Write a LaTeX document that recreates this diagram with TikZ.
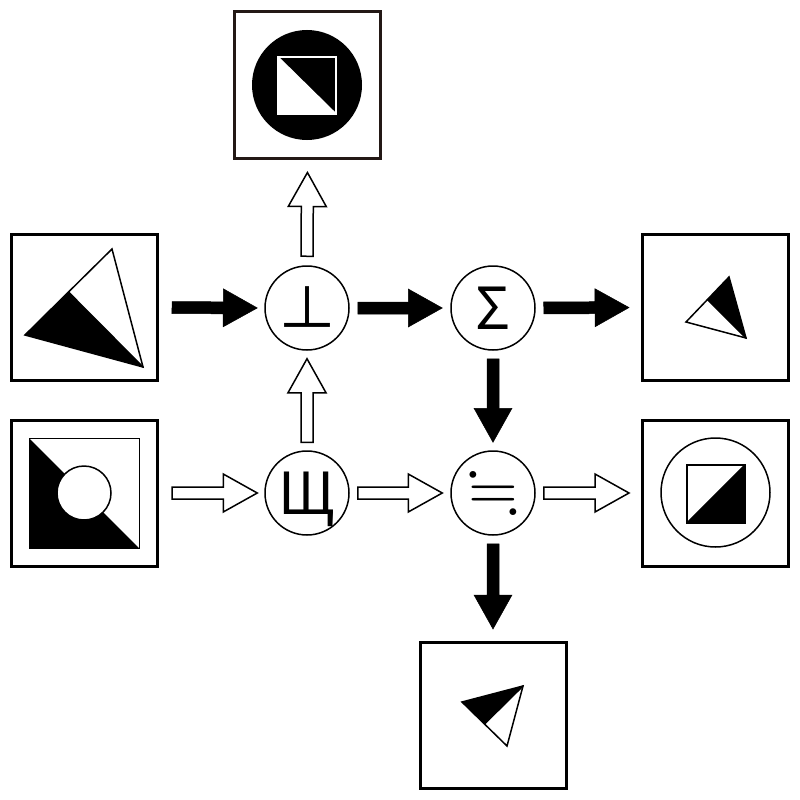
\documentclass[tikz,border=0pt]{standalone}
\usepackage{amssymb}
\usepackage{fontspec}
\setmainfont{DejaVu Sans}
\newfontfamily\symfont{Noto Sans CJK JP}
\usetikzlibrary{calc}
\definecolor{boxbrown}{RGB}{35,24,21}
\tikzset{
  box/.style={draw, line width=3pt, minimum size=146pt, inner sep=0pt},
  op/.style={circle, draw, line width=1.5pt, minimum size=84pt, inner sep=0pt,
    font=\symfont\fontsize{58}{58}\selectfont, text height=42pt, text depth=0pt},
  blackarrow/.style={fill=black, draw=black, line width=0.5pt, line join=miter},
  whitearrow/.style={fill=white, draw=black, line width=1.5pt, line join=miter},
  fig/.style={line width=1.5pt, line join=miter},
}
% style, from, to, gap at start, gap at end
\newcommand\fatarrow[5]{%
  \coordinate (fa1) at ($(#2)!#4!(#3)$);
  \coordinate (fa2) at ($(#3)!#5!(#2)$);
  \coordinate (fac) at ($(fa2)!34pt!(fa1)$);
  \draw[#1] ($(fa1)!6pt!90:(fa2)$) -- ($(fac)!6pt!90:(fa2)$) -- ($(fac)!19pt!90:(fa2)$)
    -- (fa2) -- ($(fac)!19pt!-90:(fa2)$) -- ($(fac)!6pt!-90:(fa2)$) -- ($(fa1)!6pt!-90:(fa2)$) -- cycle;
}
\begin{document}
\begin{tikzpicture}[x=1pt, y=-1pt]
\useasboundingbox (0,0) rectangle (800,800);
% boxes
\node[box, draw=boxbrown] (top) at (307.5,85) {};
\node[box] (lt) at (84.5,307.5) {};
\node[box] (lb) at (84.5,493) {};
\node[box] (rt) at (715.5,307.5) {};
\node[box] (rb) at (715.5,493) {};
\node[box] (bot) at (493,715.5) {};
% operators
\node[op] (perp) at (307,308) {⊥};
\node[op] (sum) at (493,308) {Σ};
\node[op] (shch) at (307,493) {Щ};
\node[op, font=\fontsize{64}{64}\selectfont, text height=32pt] (apx) at (493,493) {$\fallingdotseq$};
% arrows
\fatarrow{blackarrow}{lt.east}{perp.west}{13pt}{7pt}
\fatarrow{blackarrow}{perp.east}{sum.west}{8pt}{8pt}
\fatarrow{blackarrow}{sum.east}{rt.west}{8pt}{12pt}
\fatarrow{blackarrow}{sum.south}{apx.north}{8pt}{8pt}
\fatarrow{blackarrow}{apx.south}{bot.north}{8pt}{12pt}
\fatarrow{whitearrow}{lb.east}{shch.west}{13pt}{7pt}
\fatarrow{whitearrow}{shch.east}{apx.west}{8pt}{8pt}
\fatarrow{whitearrow}{apx.east}{rb.west}{8pt}{12pt}
\fatarrow{whitearrow}{shch.north}{perp.south}{8pt}{8pt}
\fatarrow{whitearrow}{perp.north}{top.south}{9pt}{13pt}
% top box figure
\fill (307,85) circle[radius=55pt];
\fill[white] (278,57) -- (278,114) -- (336,114) -- cycle;
\draw[white, fig] (278,57) rectangle (336,114);
\draw[white, fig] (278,57) -- (336,114);
% left top figure
\fill (25,335) -- (68.5,292) -- (143,367) -- cycle;
\draw[fig] (25,335) -- (112,249) -- (143,367) -- cycle;
\draw[fig] (68.5,292) -- (143,367);
% left bottom figure
\fill (29,438) -- (29,548) -- (139,548) -- cycle;
\draw[line width=1pt] (29,438) rectangle (139,548);
\draw[fill=white, fig] (84,493) circle[radius=27pt];
% right top figure
\fill (729,277) -- (707.5,299.5) -- (746,338) -- cycle;
\draw[fig] (729,277) -- (686,322) -- (746,338) -- cycle;
\draw[fig] (707.5,299.5) -- (746,338);
% right bottom figure
\draw[fig] (715.5,492.5) circle[radius=54.5pt];
\fill (687,523) -- (745,523) -- (745,465) -- cycle;
\draw[fig] (687,465) rectangle (745,523);
\draw[fig] (687,523) -- (745,465);
% bottom figure
\fill (462,702) -- (523,686) -- (484.5,724) -- cycle;
\draw[fig] (462,702) -- (523,686) -- (507,746) -- cycle;
\draw[fig] (484.5,724) -- (523,686);
\end{tikzpicture}
\end{document}
